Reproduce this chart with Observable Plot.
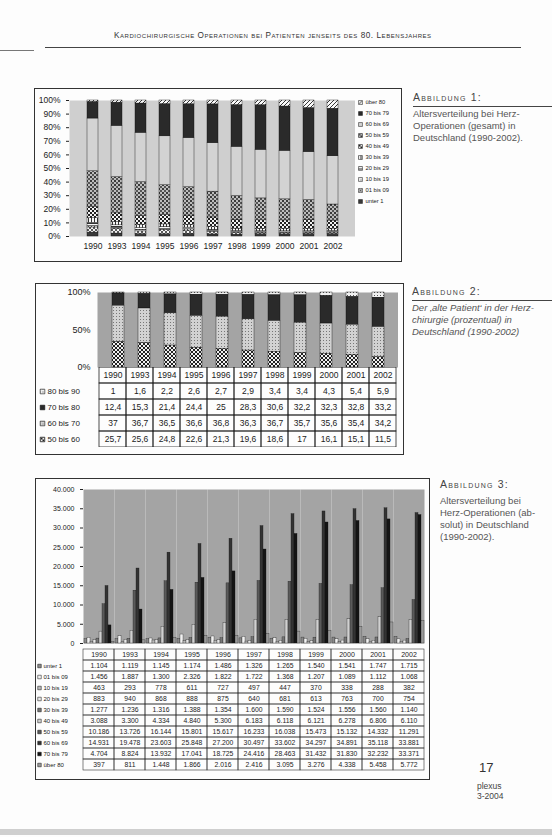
<!DOCTYPE html>
<html lang="de">
<head>
<meta charset="utf-8">
<script src="https://cdn.jsdelivr.net/npm/d3@7"></script>
<script src="https://cdn.jsdelivr.net/npm/@observablehq/plot@0.6"></script>
<style>
html,body{margin:0;padding:0;background:#fff;}
#page{position:relative;width:552px;height:837px;overflow:hidden;background:#fdfdfd;font-family:"Liberation Sans",Arial,sans-serif;color:#222;}
.box{position:absolute;border:1px solid #333;box-sizing:border-box;}
.cap{position:absolute;font-family:"Liberation Sans",Arial,sans-serif;font-size:9.5px;line-height:12px;color:#555;white-space:nowrap;}
.cap .h{font-variant:small-caps;letter-spacing:1.2px;font-size:10.5px;color:#444;margin-bottom:5px;}
.rule{position:absolute;height:1px;background:#444;}
.txt{position:absolute;white-space:nowrap;}
</style>
</head>
<body>
<svg width="0" height="0" style="position:absolute">
  <defs>
    <pattern id="pDither" width="2" height="2" patternUnits="userSpaceOnUse">
      <rect width="2" height="2" fill="#cfcfcf"/><rect width="1" height="1" fill="#5e5e5e"/><rect x="1" y="1" width="1" height="1" fill="#939393"/>
    </pattern>
    <pattern id="pCheck" width="4" height="4" patternUnits="userSpaceOnUse">
      <rect width="4" height="4" fill="#f2f2f2"/><rect width="2" height="2" fill="#222"/><rect x="2" y="2" width="2" height="2" fill="#222"/>
    </pattern>
    <pattern id="pCheckGray" width="4" height="4" patternUnits="userSpaceOnUse">
      <rect width="4" height="4" fill="#bdbdbd"/><rect width="2" height="2" fill="#3a3a3a"/><rect x="2" y="2" width="2" height="2" fill="#555"/>
    </pattern>
    <pattern id="pDots" width="3" height="3" patternUnits="userSpaceOnUse">
      <rect width="3" height="3" fill="#f0f0f0"/><rect width="1" height="1" fill="#555"/>
    </pattern>
    <pattern id="pDotsGray" width="3" height="3" patternUnits="userSpaceOnUse">
      <rect width="3" height="3" fill="#d2d2d2"/><rect width="1" height="1" fill="#777"/>
    </pattern>
    <pattern id="pDiag" width="4" height="4" patternUnits="userSpaceOnUse">
      <rect width="4" height="4" fill="#fafafa"/><path d="M0,4L4,0M-1,1L1,-1M3,5L5,3" stroke="#222" stroke-width="0.9"/>
    </pattern>
    <pattern id="pCross" width="4" height="4" patternUnits="userSpaceOnUse">
      <rect width="4" height="4" fill="#f5f5f5"/><path d="M0,4L4,0M0,0L4,4" stroke="#333" stroke-width="0.8"/>
    </pattern>
    <pattern id="pHoriz" width="3" height="3" patternUnits="userSpaceOnUse">
      <rect width="3" height="3" fill="#f7f7f7"/><rect width="3" height="1" fill="#333"/>
    </pattern>
    <pattern id="pVert" width="3" height="3" patternUnits="userSpaceOnUse">
      <rect width="3" height="3" fill="#f7f7f7"/><rect width="1" height="3" fill="#333"/>
    </pattern>
  </defs>
</svg>
<div id="page"></div>
<script>
// ---------- data ----------
const years = ["1990","1993","1994","1995","1996","1997","1998","1999","2000","2001","2002"];
const ageGroups = ["unter 1","01 bis 09","10 bis 19","20 bis 29","30 bis 39","40 bis 49","50 bis 59","60 bis 69","70 bis 79","über 80"];

// Abbildung 3 (absolute numbers)
const opsUnter1   = [1104,1119,1145,1174,1486,1326,1265,1540,1541,1747,1715];
const ops01bis09  = [1456,1887,1300,2326,1822,1722,1368,1207,1089,1112,1068];
const ops10bis19  = [463,293,778,611,727,497,447,370,338,288,382];
const ops20bis29  = [883,940,868,888,875,640,681,613,763,700,754];
const ops30bis39  = [1277,1236,1316,1388,1354,1600,1590,1524,1556,1560,1140];
const ops40bis49  = [3088,3300,4334,4840,5300,6183,6118,6121,6278,6806,6110];
const ops50bis59  = [10186,13726,16144,15801,15617,16233,16038,15473,15132,14332,11291];
const ops60bis69  = [14931,19478,23603,25848,27200,30497,33602,34297,34891,35118,33881];
const ops70bis79  = [4704,8824,13932,17041,18725,24416,28463,31432,31830,32232,33371];
const opsUeber80  = [397,811,1448,1866,2016,2416,3095,3276,4338,5458,5772];

// Abbildung 2 (percent)
const pctLabels  = ["80 bis 90","70 bis 80","60 bis 70","50 bis 60"];
const pct80bis90 = [1,1.6,2.2,2.6,2.7,2.9,3.4,3.4,4.3,5.4,5.9];
const pct70bis80 = [12.4,15.3,21.4,24.4,25,28.3,30.6,32.2,32.3,32.8,33.2];
const pct60bis70 = [37,36.7,36.5,36.6,36.8,36.3,36.7,35.7,35.6,35.4,34.2];
const pct50bis60 = [25.7,25.6,24.8,22.6,21.3,19.6,18.6,17,16.1,15.1,11.5];

const yTicks1 = [0,0.1,0.2,0.3,0.4,0.5,0.6,0.7,0.8,0.9,1];
const yTicks2 = [0,0.5,1];
const yTicks3 = [0,5000,10000,15000,20000,25000,30000,35000,40000];

// ---------- derived tables ----------
const opsSeries = [opsUnter1,ops01bis09,ops10bis19,ops20bis29,ops30bis39,ops40bis49,ops50bis59,ops60bis69,ops70bis79,opsUeber80];
const ops = [];
ageGroups.forEach((a,i) => years.forEach((y,j) => ops.push({year:y, age:a, value:opsSeries[i][j]})));
const pctSeries = [pct80bis90,pct70bis80,pct60bis70,pct50bis60];
const pct = [];
pctLabels.forEach((a,i) => years.forEach((y,j) => pct.push({year:y, age:a, value:pctSeries[i][j]})));

const de = d3.formatLocale({decimal:",", thousands:".", grouping:[3], currency:["","€"]});
const fmtInt = de.format(",d");
const fmtPct = d => String(d).replace(".", ",");

const fill1 = {
  "unter 1":"#3a3a3a","01 bis 09":"url(#pCross)","10 bis 19":"url(#pDots)","20 bis 29":"url(#pHoriz)",
  "30 bis 39":"url(#pVert)","40 bis 49":"url(#pCheck)","50 bis 59":"url(#pCheckGray)","60 bis 69":"#d3d3d3",
  "70 bis 79":"#2a2a2a","über 80":"url(#pDiag)"
};
const fill2 = {"80 bis 90":"url(#pDots)","70 bis 80":"#2a2a2a","60 bis 70":"url(#pDotsGray)","50 bis 60":"url(#pCheck)"};
const fill3 = {
  "unter 1":"#8a8a8a","01 bis 09":"#f2f2f2","10 bis 19":"#bbbbbb","20 bis 29":"#e8e8e8",
  "30 bis 39":"#777","40 bis 49":"#d0d0d0","50 bis 59":"#5a5a5a","60 bis 69":"#333",
  "70 bis 79":"#141414","über 80":"#9a9a9a"
};

const FONT = "'Liberation Sans', Arial, sans-serif";
const page = document.getElementById("page");
function place(node, left, top){ node.style.position="absolute"; node.style.left=left+"px"; node.style.top=top+"px"; page.appendChild(node); return node; }
function div(cls, left, top, w, h, html){ const d=document.createElement("div"); d.className=cls; d.style.left=left+"px"; d.style.top=top+"px"; if(w!=null) d.style.width=w+"px"; if(h!=null) d.style.height=h+"px"; if(html) d.innerHTML=html; page.appendChild(d); return d; }

// ---------- page header ----------
div("txt",114,31,null,null,"Kardiochirurgische Operationen bei Patienten jenseits des 80. Lebensjahres").style.cssText += "font-variant:small-caps;font-size:8.2px;letter-spacing:0.55px;color:#333;";
div("rule",45,47,476,null); 
div("rule",0,50,34,null).style.background="#777";

// ---------- Abbildung 1 ----------
div("box",34,88,368,174);
place(Plot.plot({
  width:321, height:166, marginLeft:35, marginRight:0, marginTop:12, marginBottom:18,
  style:{fontFamily:FONT, fontSize:"8.5px", background:"transparent", color:"#222"},
  x:{domain:years, padding:0.55, label:null, tickSize:0, tickPadding:6},
  y:{domain:[0,1], ticks:yTicks1, tickFormat:d=>Math.round(d*100)+"%", label:null, tickSize:3},
  color:{type:"identity"},
  marks:[
    Plot.frame({fill:"#cfcfcf", stroke:"none"}),
    Plot.barY(ops, Plot.stackY({offset:"normalize", order:ageGroups, x:"year", y:"value", z:"age", fill:d=>fill1[d.age], stroke:"#111", strokeWidth:0.4}))
  ]
}), 34, 88);
const legendAges = ageGroups.slice().reverse();
place(Plot.plot({
  width:44, height:108, marginTop:4, marginBottom:4, marginLeft:0, marginRight:0,
  style:{fontFamily:FONT, background:"transparent", color:"#222"},
  y:{domain:legendAges, padding:0, axis:null},
  color:{type:"identity"},
  marks:[
    Plot.dot(legendAges, {y:d=>d, frameAnchor:"left", dx:4, symbol:"square", r:2.2, fill:d=>fill1[d], stroke:"#111", strokeWidth:0.5}),
    Plot.text(legendAges, {y:d=>d, frameAnchor:"left", dx:9, textAnchor:"start", text:d=>d, fontSize:5.8})
  ]
}), 356, 97);
div("cap",413,91,null,null,'<div class="h">Abbildung 1:</div>Altersverteilung bei Herz-<br>Operationen (gesamt) in<br>Deutschland (1990-2002).');
div("rule",413,106,139,null);

// ---------- Abbildung 2 ----------
div("box",35,283,369,172);
place(Plot.plot({
  width:363, height:92, marginLeft:62, marginRight:0, marginTop:9, marginBottom:8,
  style:{fontFamily:FONT, fontSize:"9px", background:"transparent", color:"#222"},
  x:{domain:years, padding:0.55, axis:null},
  y:{domain:[0,1], ticks:yTicks2, tickFormat:d=>Math.round(d*100)+"%", label:null, tickSize:0, tickPadding:7},
  color:{type:"identity"},
  marks:[
    Plot.frame({fill:"url(#pDither)", stroke:"none"}),
    Plot.barY(pct, Plot.stackY({offset:"normalize", order:pctLabels.slice().reverse(), x:"year", y:"value", z:"age", fill:d=>fill2[d.age], stroke:"#111", strokeWidth:0.4}))
  ]
}), 35, 283);
const grid2 = [];
["head",...pctLabels].forEach(r => years.forEach(y => grid2.push({year:y, row:r})));
place(Plot.plot({
  width:363, height:80, marginLeft:62, marginRight:0, marginTop:0, marginBottom:0,
  style:{fontFamily:FONT, background:"transparent", color:"#222"},
  x:{domain:years, padding:0, axis:null},
  y:{domain:["head",...pctLabels], padding:0, axis:null},
  color:{type:"identity"},
  marks:[
    Plot.cell(grid2, {x:"year", y:"row", fill:"none", stroke:"#222", strokeWidth:0.8}),
    Plot.text(years, {x:d=>d, y:()=>"head", text:d=>d, fontSize:8.5}),
    Plot.text(pct, {x:"year", y:"age", text:d=>fmtPct(d.value), fontSize:8.5}),
    Plot.dot(pctLabels, {y:d=>d, frameAnchor:"left", dx:-55, symbol:"square", r:2.6, fill:d=>fill2[d], stroke:"#111", strokeWidth:0.6}),
    Plot.text(pctLabels, {y:d=>d, frameAnchor:"left", dx:-50, textAnchor:"start", text:d=>d, fontSize:8})
  ]
}), 35, 367);
div("cap",412,285,null,null,'<div class="h">Abbildung 2:</div><i>Der ‚alte Patient‘ in der Herz-<br>chirurgie (prozentual) in<br>Deutschland (1990-2002)</i>');
div("rule",412,300,140,null);

// ---------- Abbildung 3 ----------
div("box",35,478,395,302);
place(Plot.plot({
  width:390, height:171, marginLeft:47, marginRight:0, marginTop:11, marginBottom:6,
  style:{fontFamily:FONT, fontSize:"7px", background:"transparent", color:"#222"},
  fx:{domain:years, padding:0, axis:null, label:null},
  x:{domain:ageGroups, padding:0.15, axis:null},
  y:{domain:[0,40000], ticks:yTicks3, tickFormat:fmtInt, label:null, tickSize:3},
  color:{type:"identity"},
  marks:[
    Plot.frame({fill:"url(#pDither)", stroke:"none"}),
    Plot.barY(ops, {fx:"year", x:"age", y:"value", fill:d=>fill3[d.age], stroke:"#111", strokeWidth:0.3})
  ]
}), 35, 478);
const grid3 = [];
["head",...ageGroups].forEach(r => years.forEach(y => grid3.push({year:y, row:r})));
place(Plot.plot({
  width:390, height:130, marginLeft:47, marginRight:0, marginTop:0, marginBottom:0,
  style:{fontFamily:FONT, background:"transparent", color:"#222"},
  x:{domain:years, padding:0, axis:null},
  y:{domain:["head",...ageGroups], padding:0, axis:null},
  color:{type:"identity"},
  marks:[
    Plot.cell(grid3, {x:"year", y:"row", fill:"none", stroke:"#333", strokeWidth:0.6}),
    Plot.text(years, {x:d=>d, y:()=>"head", text:d=>d, fontSize:7}),
    Plot.text(ops, {x:"year", y:"age", text:d=>fmtInt(d.value), fontSize:6.8}),
    Plot.dot(ageGroups, {y:d=>d, frameAnchor:"left", dx:-43, symbol:"square", r:2, fill:d=>fill3[d], stroke:"#111", strokeWidth:0.5}),
    Plot.text(ageGroups, {y:d=>d, frameAnchor:"left", dx:-39, textAnchor:"start", text:d=>d, fontSize:6})
  ]
}), 35, 644);
div("cap",440,478,null,null,'<div class="h">Abbildung 3:</div>Altersverteilung bei<br>Herz-Operationen (ab-<br>solut) in Deutschland<br>(1990-2002).');

// ---------- folio ----------
div("txt",479,760,null,null,"17").style.cssText += "font-size:13px;color:#333;";
div("txt",477,781,null,null,"plexus<br>3-2004").style.cssText += "font-size:8.5px;line-height:10px;color:#444;";
div("rule",0,829,552,null).style.cssText += "height:6px;background:#cfcfcf;";
</script>
</body>
</html>
